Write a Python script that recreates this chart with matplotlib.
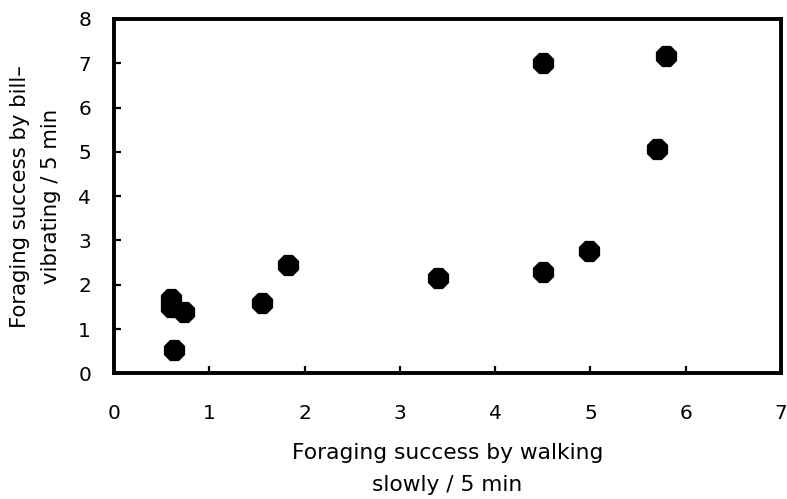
import matplotlib
matplotlib.use("Agg")
import matplotlib.pyplot as plt

plt.rcParams['font.family'] = ['DejaVu Sans']

# foraging success per 5 min
walking = [0.60, 0.60, 0.73, 0.63, 1.55, 1.83, 3.40, 4.50, 4.99, 4.50, 5.79, 5.70]
bill_vibrating = [1.68, 1.49, 1.38, 0.53, 1.58, 2.44, 2.16, 2.28, 2.76, 7.01, 7.17, 5.06]

xticks = [0, 1, 2, 3, 4, 5, 6, 7]
yticks = [0, 1, 2, 3, 4, 5, 6, 7, 8]

fig = plt.figure(figsize=(7.87, 4.99), dpi=100)
ax = fig.add_axes([0.1449, 0.2519, 0.8475, 0.7101])

ax.scatter(walking, bill_vibrating, marker='8', s=240, color='black', zorder=3)

ax.set_xlim(0, 7)
ax.set_ylim(0, 8)
ax.set_xticks(xticks)
ax.set_yticks(yticks)

for sp in ax.spines.values():
    sp.set_linewidth(2.8)
ax.tick_params(direction='in', length=5, width=1.6, labelsize=14.5)
ax.tick_params(axis='x', pad=22)
ax.tick_params(axis='y', pad=16.5)

ax.set_xlabel("Foraging success by walking\nslowly / 5 min", fontsize=15.7, linespacing=1.72, va='top')
ax.set_ylabel("Foraging success by bill\u2013\nvibrating / 5 min", fontsize=15.3, linespacing=1.68)
ax.xaxis.set_label_coords(0.5, -0.197)
ax.yaxis.set_label_coords(-0.079, 0.5)

fig.savefig("out.png", dpi=100)
